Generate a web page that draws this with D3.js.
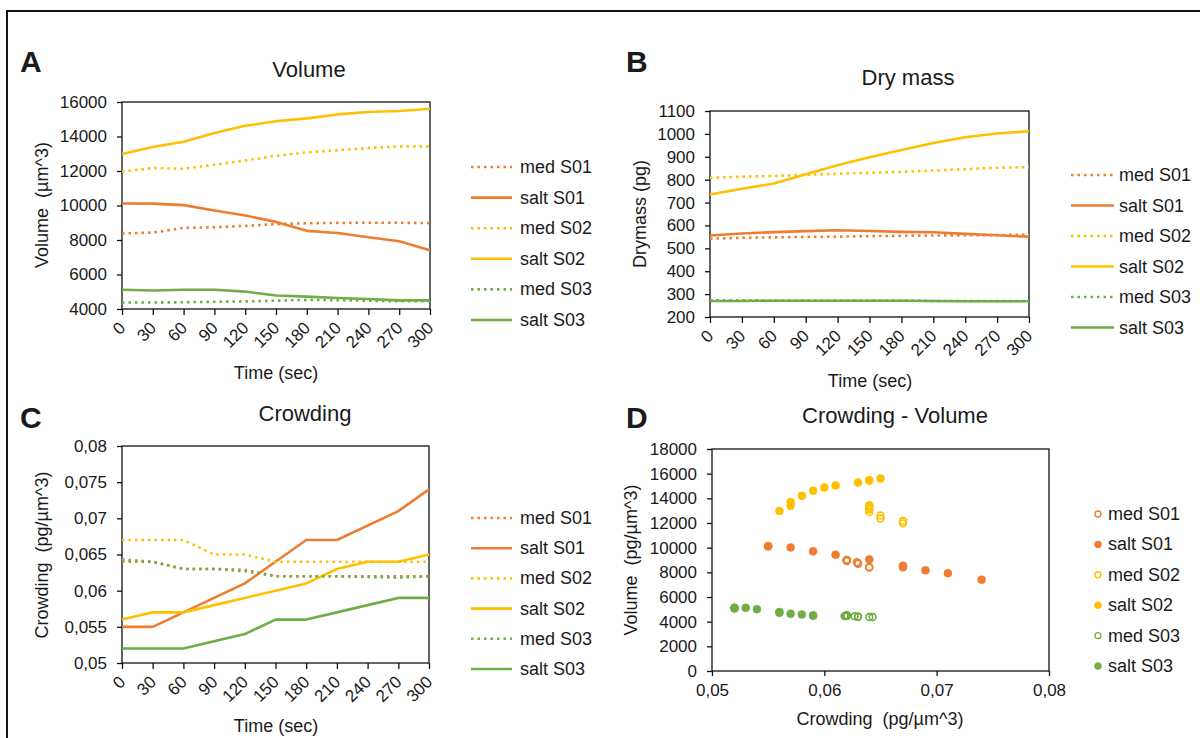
<!DOCTYPE html>
<html>
<head>
<meta charset="utf-8">
<script src="https://cdn.jsdelivr.net/npm/d3@7"></script>
<style>
  html, body { margin: 0; padding: 0; background: #fff; }
  svg { display: block; font-family: "Liberation Sans", Arial, sans-serif; }
  text { white-space: pre; fill: #1a1a1a; }
</style>
</head>
<body>
<svg id="fig" width="1200" height="738"></svg>
<script>
// ---- data ----------------------------------------------------------------
const times = [0, 30, 60, 90, 120, 150, 180, 210, 240, 270, 300];

const seriesNames  = ["med S01", "salt S01", "med S02", "salt S02", "med S03", "salt S03"];
const seriesColors = ["#ED7D31", "#ED7D31", "#FFC000", "#FFC000", "#70AD47", "#70AD47"];
const seriesIsMed  = [true, false, true, false, true, false];

// Volume (µm^3)
const volumeMedS01  = [8380, 8430, 8700, 8740, 8820, 8920, 8970, 8990, 9000, 9000, 8980];
const volumeSaltS01 = [10120, 10110, 10020, 9710, 9420, 9050, 8530, 8410, 8160, 7930, 7400];
const volumeMedS02  = [11970, 12170, 12130, 12360, 12610, 12880, 13080, 13200, 13330, 13430, 13430];
const volumeSaltS02 = [12980, 13390, 13700, 14200, 14620, 14880, 15050, 15280, 15420, 15480, 15610];
const volumeMedS03  = [4380, 4380, 4390, 4420, 4440, 4480, 4530, 4510, 4480, 4450, 4460];
const volumeSaltS03 = [5120, 5070, 5120, 5120, 5010, 4780, 4720, 4640, 4580, 4500, 4500];

// Dry mass (pg)
const drymassMedS01  = [542, 546, 548, 550, 551, 553, 555, 556, 557, 558, 560];
const drymassSaltS01 = [556, 565, 571, 575, 579, 576, 572, 570, 563, 557, 551];
const drymassMedS02  = [808, 813, 816, 821, 826, 830, 834, 840, 846, 852, 855];
const drymassSaltS02 = [735, 760, 783, 824, 863, 898, 930, 960, 985, 1002, 1012];
const drymassMedS03  = [273, 273, 272, 272, 272, 272, 272, 270, 270, 270, 270];
const drymassSaltS03 = [270, 270, 271, 271, 271, 271, 271, 270, 269, 269, 269];

// Crowding (pg/µm^3)
const crowdingMedS01  = [0.064, 0.064, 0.063, 0.063, 0.0629, 0.062, 0.062, 0.062, 0.062, 0.062, 0.062];
const crowdingSaltS01 = [0.055, 0.055, 0.057, 0.059, 0.061, 0.064, 0.067, 0.067, 0.069, 0.071, 0.074];
const crowdingMedS02  = [0.067, 0.067, 0.067, 0.065, 0.065, 0.064, 0.064, 0.064, 0.064, 0.064, 0.064];
const crowdingSaltS02 = [0.056, 0.057, 0.057, 0.058, 0.059, 0.060, 0.061, 0.063, 0.064, 0.064, 0.065];
const crowdingMedS03  = [0.0643, 0.064, 0.063, 0.063, 0.0627, 0.062, 0.062, 0.062, 0.0619, 0.0618, 0.062];
const crowdingSaltS03 = [0.052, 0.052, 0.052, 0.053, 0.054, 0.056, 0.056, 0.057, 0.058, 0.059, 0.059];

// Tick values and labels
const volumeTicks    = [4000, 6000, 8000, 10000, 12000, 14000, 16000];
const drymassTicks   = [200, 300, 400, 500, 600, 700, 800, 900, 1000, 1100];
const crowdingTicks  = [0.05, 0.055, 0.06, 0.065, 0.07, 0.075, 0.08];
const crowdingLabels = ["0,05", "0,055", "0,06", "0,065", "0,07", "0,075", "0,08"];
const scatterXTicks  = [0.05, 0.06, 0.07, 0.08];
const scatterXLabels = ["0,05", "0,06", "0,07", "0,08"];
const scatterYTicks  = [0, 2000, 4000, 6000, 8000, 10000, 12000, 14000, 16000, 18000];

const volumeSeries   = [volumeMedS01, volumeSaltS01, volumeMedS02, volumeSaltS02, volumeMedS03, volumeSaltS03];
const drymassSeries  = [drymassMedS01, drymassSaltS01, drymassMedS02, drymassSaltS02, drymassMedS03, drymassSaltS03];
const crowdingSeries = [crowdingMedS01, crowdingSaltS01, crowdingMedS02, crowdingSaltS02, crowdingMedS03, crowdingSaltS03];

// ---- drawing ---------------------------------------------------------------
const svg = d3.select("#fig");
const TICK_FS = 17, LABEL_FS = 18, TITLE_FS = 22, LETTER_FS = 30;
const SOLID_W = 2.6, DOT_DASH = "2.5,4";

// outer frame (left and top edges)
svg.append("path")
  .attr("d", "M7,738 L7,11 L1200,11")
  .attr("fill", "none").attr("stroke", "#111").attr("stroke-width", 2);

function styleAxis(g) {
  g.select(".domain").remove();
  g.selectAll(".tick line").attr("stroke", "#111").attr("stroke-width", 1.3);
  g.selectAll(".tick text")
    .attr("font-size", TICK_FS)
    .attr("font-family", "Liberation Sans, Arial, sans-serif")
    .attr("fill", "#1a1a1a");
}

function frameBox(x0, y0, w, h) {
  svg.append("rect")
    .attr("x", x0).attr("y", y0).attr("width", w).attr("height", h)
    .attr("fill", "none").attr("stroke", "#111").attr("stroke-width", 1.3);
}

function panelText(letter, lx, ly, title, tx, ty) {
  svg.append("text").attr("x", lx).attr("y", ly)
    .attr("font-size", LETTER_FS).attr("font-weight", "bold").text(letter);
  svg.append("text").attr("x", tx).attr("y", ty)
    .attr("font-size", TITLE_FS).attr("text-anchor", "middle").text(title);
}

function yTitle(text, x, y) {
  svg.append("text")
    .attr("transform", `translate(${x},${y}) rotate(-90)`)
    .attr("text-anchor", "middle").attr("dominant-baseline", "central")
    .attr("font-size", LABEL_FS).text(text);
}

function xTitle(text, x, y) {
  svg.append("text").attr("x", x).attr("y", y)
    .attr("text-anchor", "middle").attr("font-size", LABEL_FS).text(text);
}

function linePanel(cfg) {
  const x = d3.scaleLinear().domain([0, 300]).range([cfg.x0, cfg.x0 + cfg.w]);
  const y = d3.scaleLinear().domain(cfg.yDomain).range([cfg.y0 + cfg.h, cfg.y0]);

  // y axis
  const ya = svg.append("g").attr("transform", `translate(${cfg.x0},0)`)
    .call(d3.axisLeft(y).tickValues(cfg.yTicks).tickSize(5).tickSizeOuter(0)
      .tickPadding(10).tickFormat((d, i) => cfg.yLabels ? cfg.yLabels[i] : String(d)));
  styleAxis(ya);

  // x axis with slanted labels
  const xa = svg.append("g").attr("transform", `translate(0,${cfg.y0 + cfg.h})`)
    .call(d3.axisBottom(x).tickValues(times).tickSize(6).tickSizeOuter(0).tickFormat(d => String(d)));
  styleAxis(xa);
  xa.selectAll(".tick text")
    .attr("x", 4).attr("y", 20).attr("dy", null)
    .attr("text-anchor", "end")
    .attr("transform", "rotate(-45,4,20)");

  frameBox(cfg.x0, cfg.y0, cfg.w, cfg.h);

  const line = d3.line().x((d, i) => x(times[i])).y(d => y(d));
  cfg.series.forEach((vals, k) => {
    svg.append("path")
      .datum(vals)
      .attr("d", line)
      .attr("fill", "none")
      .attr("stroke", seriesColors[k])
      .attr("stroke-width", SOLID_W)
      .attr("stroke-linejoin", "round")
      .attr("stroke-dasharray", seriesIsMed[k] ? DOT_DASH : null);
  });

  // legend
  seriesNames.forEach((name, k) => {
    const ry = cfg.legY + k * cfg.legStep;
    svg.append("line")
      .attr("x1", cfg.legX1).attr("x2", cfg.legX2).attr("y1", ry).attr("y2", ry)
      .attr("stroke", seriesColors[k]).attr("stroke-width", SOLID_W)
      .attr("stroke-dasharray", seriesIsMed[k] ? DOT_DASH : null);
    svg.append("text").attr("x", cfg.legTX).attr("y", ry)
      .attr("dominant-baseline", "central").attr("font-size", LABEL_FS).text(name);
  });
}

// Panel A – Volume
panelText("A", 20, 72, "Volume", 309, 77);
linePanel({
  x0: 122, y0: 102, w: 308, h: 207,
  yDomain: [4000, 16000], yTicks: volumeTicks,
  series: volumeSeries,
  legX1: 471, legX2: 512, legTX: 520, legY: 167, legStep: 30.6
});
yTitle("Volume  (µm^3)", 42, 205);
xTitle("Time (sec)", 276, 379);

// Panel B – Dry mass
panelText("B", 626, 72, "Dry mass", 908, 85);
linePanel({
  x0: 710, y0: 111, w: 319, h: 206,
  yDomain: [200, 1100], yTicks: drymassTicks,
  series: drymassSeries,
  legX1: 1071, legX2: 1114, legTX: 1119, legY: 175, legStep: 30.5
});
yTitle("Drymass (pg)", 640, 214);
xTitle("Time (sec)", 870, 387);

// Panel C – Crowding
panelText("C", 20, 428, "Crowding", 305, 421);
linePanel({
  x0: 122, y0: 446, w: 307, h: 217,
  yDomain: [0.05, 0.08], yTicks: crowdingTicks, yLabels: crowdingLabels,
  series: crowdingSeries,
  legX1: 471, legX2: 512, legTX: 520, legY: 518, legStep: 30.2
});
yTitle("Crowding  (pg/µm^3)", 42, 555);
xTitle("Time (sec)", 276, 732);

// Panel D – Crowding vs Volume scatter
panelText("D", 626, 428, "Crowding - Volume", 895, 423);
(function () {
  const x0 = 712, y0 = 449, w = 337, h = 222;
  const x = d3.scaleLinear().domain([0.05, 0.08]).range([x0, x0 + w]);
  const y = d3.scaleLinear().domain([0, 18000]).range([y0 + h, y0]);

  const ya = svg.append("g").attr("transform", `translate(${x0},0)`)
    .call(d3.axisLeft(y).tickValues(scatterYTicks).tickSize(5).tickSizeOuter(0)
      .tickPadding(10).tickFormat(d => String(d)));
  styleAxis(ya);
  const xa = svg.append("g").attr("transform", `translate(0,${y0 + h})`)
    .call(d3.axisBottom(x).tickValues(scatterXTicks).tickSize(5).tickSizeOuter(0)
      .tickPadding(8).tickFormat((d, i) => scatterXLabels[i]));
  styleAxis(xa);
  frameBox(x0, y0, w, h);

  seriesNames.forEach((name, k) => {
    const pts = crowdingSeries[k].map((c, i) => [c, volumeSeries[k][i]]);
    svg.append("g").selectAll("circle").data(pts).join("circle")
      .attr("cx", d => x(d[0])).attr("cy", d => y(d[1]))
      .attr("r", seriesIsMed[k] ? 3.4 : 4)
      .attr("fill", seriesIsMed[k] ? "none" : seriesColors[k])
      .attr("stroke", seriesColors[k])
      .attr("stroke-width", seriesIsMed[k] ? 1.6 : 0.5);
  });

  seriesNames.forEach((name, k) => {
    const ry = 514 + k * 30.4;
    svg.append("circle").attr("cx", 1098).attr("cy", ry)
      .attr("r", seriesIsMed[k] ? 3 : 3.5)
      .attr("fill", seriesIsMed[k] ? "#fff" : seriesColors[k])
      .attr("stroke", seriesColors[k]).attr("stroke-width", seriesIsMed[k] ? 1.4 : 0.5);
    svg.append("text").attr("x", 1108).attr("y", ry)
      .attr("dominant-baseline", "central").attr("font-size", LABEL_FS).text(name);
  });

  yTitle("Volume  (pg/µm^3)", 631, 560);
  xTitle("Crowding  (pg/µm^3)", 880, 725);
})();
</script>
</body>
</html>
